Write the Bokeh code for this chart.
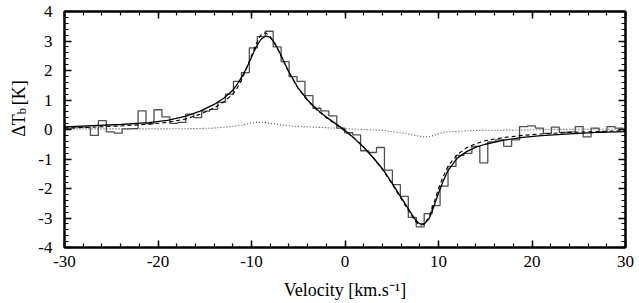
from bokeh.plotting import figure
from bokeh.models import LinearAxis, SingleIntervalTicker, CustomJSTickFormatter, Range1d
from bokeh.layouts import row
from bokeh.core.properties import value
from bokeh.embed import file_html
from bokeh.resources import INLINE
import math

# ---------------- data ----------------
# channel edges (km/s)
chan_edges = [-30.63, -29.78, -28.93, -28.08, -27.23, -26.38, -25.53, -24.68, -23.83, -22.98,
              -22.13, -21.28, -20.43, -19.58, -18.73, -17.88, -17.03, -16.18, -15.33, -14.48,
              -13.63, -12.78, -11.93, -11.08, -10.23, -9.38, -8.53, -7.68, -6.83, -5.98,
              -5.13, -4.28, -3.43, -2.58, -1.73, -0.88, -0.03, 0.82, 1.67, 2.52,
              3.37, 4.22, 5.07, 5.92, 6.77, 7.62, 8.47, 9.32, 10.17, 11.02,
              11.87, 12.72, 13.57, 14.42, 15.27, 16.12, 16.97, 17.82, 18.67, 19.52,
              20.37, 21.22, 22.07, 22.92, 23.77, 24.62, 25.47, 26.32, 27.17, 28.02,
              28.87, 29.72, 30.57]
# observed Stokes-V (delta Tb, K) per channel
obs_dTb = [0.05, 0.05, 0.08, 0.08, -0.20, 0.30, -0.08, -0.12, 0.02, 0.03,
           0.63, 0.20, 0.67, 0.43, 0.21, 0.24, 0.52, 0.40, 0.62, 0.68,
           0.92, 1.20, 1.63, 1.93, 2.77, 3.15, 3.33, 2.80, 2.30, 1.79,
           1.63, 1.15, 0.72, 0.63, 0.46, 0.05, -0.11, -0.18, -0.72, -0.78,
           -0.61, -1.38, -1.87, -2.27, -2.98, -3.30, -2.85, -2.58, -1.92, -1.25,
           -0.88, -0.81, -0.57, -1.13, -0.42, -0.35, -0.57, -0.35, 0.10, 0.12,
           0.05, -0.13, 0.08, -0.10, -0.08, 0.10, -0.25, 0.05, -0.08, 0.10,
           0.05, -0.02]

# fit 1 (solid)
fit1_v = [-30, -27, -24, -21, -19, -17, -15.5, -14, -13, -12, -11.5, -11, -10.5, -10, -9.5, -9,
          -8.5, -8, -7.5, -7, -6.5, -6, -5, -4, -3, -2, -1, 0, 1, 2, 3, 4, 5, 6, 7, 7.5, 8, 8.5,
          9, 9.5, 10, 10.5, 11, 12, 13, 14, 15, 17, 19, 21, 24, 27, 30]
fit1_T = [0.09, 0.13, 0.17, 0.23, 0.31, 0.45, 0.62, 0.85, 1.05, 1.33, 1.55, 1.80, 2.10, 2.45, 2.80, 3.05,
          3.17, 3.12, 2.92, 2.62, 2.28, 1.95, 1.40, 1.00, 0.68, 0.42, 0.20, -0.03, -0.30, -0.60, -0.95,
          -1.33, -1.80, -2.30, -2.80, -3.05, -3.20, -3.20, -3.02, -2.62, -2.15, -1.75, -1.40, -0.97,
          -0.75, -0.60, -0.50, -0.36, -0.27, -0.21, -0.15, -0.10, -0.07]

# fit 2 (dashed)
fit2_v = [-30, -27, -24, -21, -19, -17, -15.5, -14, -13, -12, -11.5, -11, -10.5, -10, -9.5, -9,
          -8.5, -8, -7.5, -7, -6.5, -6, -5, -4, -3, -2, -1, 0, 1, 2, 3, 4, 5, 6, 7, 7.5, 8, 8.5,
          9, 9.5, 10, 10.5, 11, 12, 13, 14, 15, 17, 19, 21, 24, 27, 30]
fit2_T = [0.05, 0.08, 0.12, 0.18, 0.24, 0.36, 0.52, 0.73, 0.93, 1.20, 1.42, 1.72, 2.10, 2.50, 2.90, 3.20,
          3.28, 3.15, 2.90, 2.60, 2.25, 1.93, 1.38, 0.98, 0.66, 0.40, 0.18, -0.05, -0.30, -0.60, -0.95,
          -1.35, -1.83, -2.35, -2.85, -3.10, -3.25, -3.20, -2.95, -2.50, -2.00, -1.60, -1.25, -0.85,
          -0.62, -0.48, -0.38, -0.27, -0.20, -0.15, -0.10, -0.07, -0.04]

# small leakage term (dotted)
leak_v = [-30, -24, -20, -16, -14, -12.5, -11, -10, -9.3, -8.5, -7.5, -6.5, -5.3, -4, -2, 0,
          2, 4, 6, 7, 8, 8.6, 9.3, 10, 10.7, 12, 14, 18, 22, 26, 30]
leak_T = [0.02, 0.02, 0.02, 0.03, 0.05, 0.09, 0.15, 0.22, 0.25, 0.24, 0.19, 0.14, 0.11, 0.09, 0.06, 0.03,
          0.00, -0.03, -0.11, -0.17, -0.23, -0.26, -0.22, -0.14, -0.09, -0.06, -0.03, -0.02, 0.00, 0.01, 0.01]

# axis titles
ylab_a = "\u0394T"
ylab_b = "b"
ylab_c = "[K]"
xlab_text = "Velocity [km.s\u207b\u00b9]"

# ---------------- main figure ----------------
FONT = "Liberation Serif, Times New Roman, Times, serif"
H = 302
LAB_W = 30
p = figure(width=609, height=H, x_range=Range1d(-30, 30), y_range=Range1d(-4, 4),
           output_backend="svg", toolbar_location=None,
           min_border_left=34, min_border_right=14, min_border_top=11, min_border_bottom=0)
p.background_fill_color = "white"
p.border_fill_color = "white"
p.outline_line_color = "black"
p.outline_line_width = 2
p.xgrid.grid_line_color = None
p.ygrid.grid_line_color = None

plain = CustomJSTickFormatter(code="return tick.toFixed(0)")
empty = CustomJSTickFormatter(code="return ''")

def style(ax):
    ax.major_tick_in = 7
    ax.major_tick_out = 0
    ax.minor_tick_in = 4
    ax.minor_tick_out = 0
    ax.major_tick_line_width = 1.5
    ax.minor_tick_line_width = 1.2
    ax.axis_line_width = 2
    ax.major_tick_line_color = "black"
    ax.minor_tick_line_color = "black"
    ax.axis_line_color = "black"
    ax.major_label_text_font = FONT
    ax.major_label_text_color = "black"
    ax.axis_label_text_font = FONT
    ax.axis_label_text_font_style = "normal"
    ax.axis_label_text_color = "black"

xa = p.xaxis[0]
style(xa)
xa.ticker = SingleIntervalTicker(interval=10, num_minor_ticks=5)
xa.formatter = plain
xa.major_label_text_font_size = "17px"
xa.major_label_standoff = 8
xa.axis_label = xlab_text
xa.axis_label_text_font_size = "18px"
xa.axis_label_standoff = 10

ya = p.yaxis[0]
style(ya)
ya.ticker = SingleIntervalTicker(interval=1, num_minor_ticks=5)
ya.formatter = CustomJSTickFormatter(code="return tick.toFixed(0)")
ya.major_label_text_font_size = "17px"
ya.major_label_standoff = 12

top = LinearAxis(ticker=SingleIntervalTicker(interval=10, num_minor_ticks=5), formatter=empty)
right = LinearAxis(ticker=SingleIntervalTicker(interval=1, num_minor_ticks=5), formatter=empty)
for ax in (top, right):
    style(ax)
    ax.major_label_text_font_size = "1px"
    ax.major_label_standoff = 0
p.add_layout(top, "above")
p.add_layout(right, "right")

p.step(chan_edges, obs_dTb + [obs_dTb[-1]], mode="after", line_color="#505050", line_width=1.3)
p.line(leak_v, leak_T, line_color="#444444", line_width=1.1, line_dash="1 2")
p.line(fit2_v, fit2_T, line_color="black", line_width=1.1, line_dash="4 3")
p.line(fit1_v, fit1_T, line_color="black", line_width=1.3)

# ---------------- narrow strip holding the y-axis title ----------------
lab = figure(width=LAB_W, height=H, x_range=Range1d(0, LAB_W), y_range=Range1d(0, H),
             x_axis_location=None, y_axis_location=None,
             output_backend="svg", toolbar_location=None,
             min_border_left=0, min_border_right=0, min_border_top=0, min_border_bottom=0)
lab.xgrid.visible = False
lab.ygrid.visible = False
lab.outline_line_color = None
lab.background_fill_color = "white"
lab.border_fill_color = "white"
# pixel positions inside the strip (x = baseline, y measured from the bottom)
rot = dict(angle=math.pi / 2, text_font=value(FONT), text_color="black", text_baseline="alphabetic")
lab.text(x=[18], y=[170.5], text=[ylab_a], text_font_size="18px", text_align="right", **rot)
lab.text(x=[21], y=[170.5], text=[ylab_b], text_font_size="12.5px", text_align="left", **rot)
lab.text(x=[18], y=[182], text=[ylab_c], text_font_size="18px", text_align="left", **rot)

layout = row(lab, p)
open("out.html", "w").write(file_html(layout, INLINE))
